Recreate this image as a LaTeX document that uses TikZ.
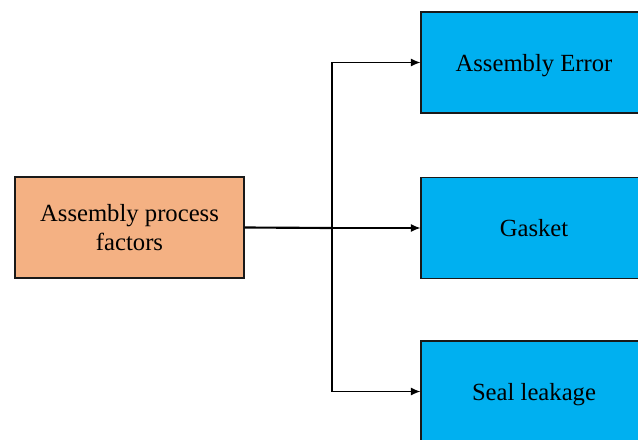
\documentclass[tikz,border=0pt]{standalone}
\usepackage{fontspec}
\setmainfont{Liberation Serif}
\usepackage{xcolor}
\usepackage{tikz}
\usetikzlibrary{arrows.meta, positioning}

\definecolor{factorfill}{HTML}{F4B183}
\definecolor{effectfill}{HTML}{00B0F0}

\begin{document}
\begin{tikzpicture}[
    x=0.75pt, y=0.75pt,
    every node/.style={align=center, font=\fontsize{18.5}{22}\selectfont},
    box/.style={rectangle, draw=black!90, line width=1.1pt, minimum width=171.75pt, minimum height=75.75pt, inner sep=0pt},
    effect/.style={box, fill=effectfill, minimum width=169.5pt, text depth=0pt},
    arrow/.style={-{Latex[length=7pt, width=6pt]}, line width=0.8pt}
]
\useasboundingbox (0,0) rectangle (638,-439);
\clip (0,0) rectangle (638,-439);

% Nodes
\node[box, fill=factorfill] (factors) at (129.5,-227.5) {Assembly process\\factors};
\node[effect] (error) at (534,-62.5) {Assembly Error};
\node[effect] (gasket) at (534,-228) {Gasket};
\node[effect] (leakage) at (534,-391.5) {Seal leakage};

\coordinate (fork) at (332,-228);

% Arrows
\draw[line width=1.6pt] (factors.east) -- (fork);
\draw[arrow] (fork) |- (error.west);
\draw[arrow] (fork) -- (gasket.west);
\draw[arrow] (fork) |- (leakage.west);

\end{tikzpicture}
\end{document}
